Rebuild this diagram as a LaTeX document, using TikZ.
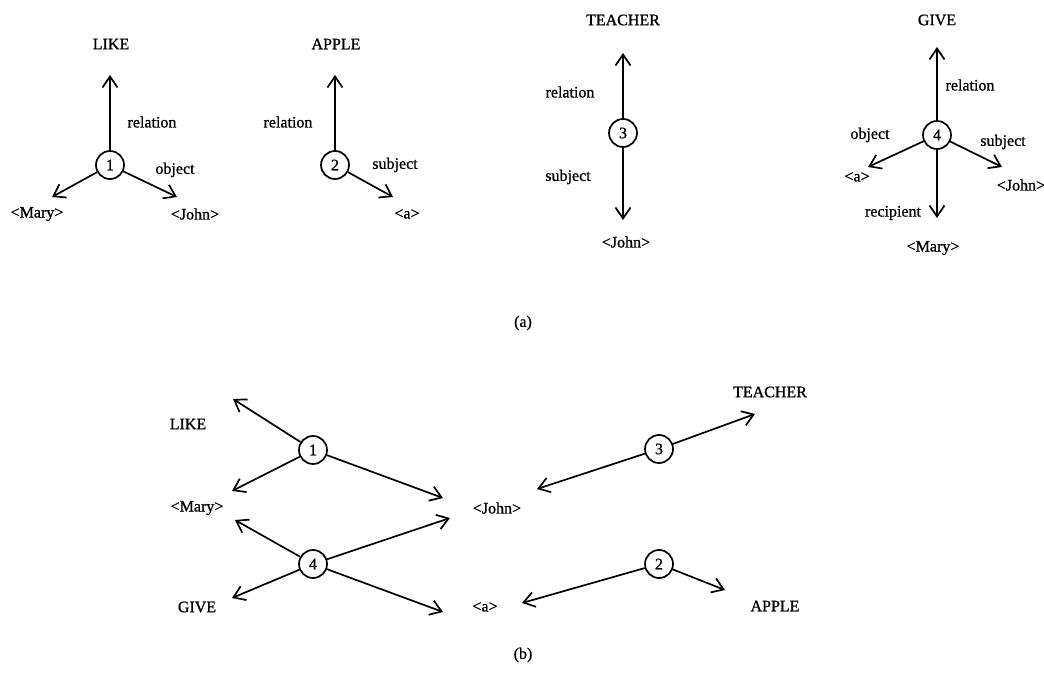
\documentclass[tikz,border=0pt]{standalone}
\usepackage{fontspec}
\setmainfont{Liberation Serif}[AutoFakeBold=0.9]
\usetikzlibrary{arrows.meta}
\begin{document}
\begin{tikzpicture}[x=1pt,y=-1pt,
  every node/.style={font=\fontsize{16}{19}\selectfont\bfseries},
  st/.style={circle,draw,line width=1.7pt,minimum size=28pt,inner sep=0pt},
  lb/.style={inner sep=1pt},
  arr/.style={line width=1.7pt,-{Straight Barb[length=11pt,width=15pt,line width=1.7pt]}}]
\useasboundingbox (0,0) rectangle (1044,687);
% ---------- (a) graph 1
\node[st] (a1) at (110,165) {1};
\coordinate (a1u) at (110,75);
\coordinate (a1l) at (52,197);
\coordinate (a1r) at (177,197);
\draw[arr] (a1) -- (a1u);
\draw[arr] (a1) -- (a1l);
\draw[arr] (a1) -- (a1r);
\node[lb] (a1like) at (111,44) {LIKE};
\node[lb] (a1rel) at (152,122) {relation};
\node[lb] (a1obj) at (175,170) {object};
\node[lb] (a1mary) at (37,214) {<Mary>};
\node[lb] (a1john) at (195,214) {<John>};
% ---------- (a) graph 2
\node[st] (a2) at (335,165) {2};
\coordinate (a2u) at (335,75);
\coordinate (a2r) at (393,197);
\draw[arr] (a2) -- (a2u);
\draw[arr] (a2) -- (a2r);
\node[lb] (a2apple) at (336,44) {APPLE};
\node[lb] (a2rel) at (288,122) {relation};
\node[lb] (a2sub) at (395,165) {subject};
\node[lb] (a2a) at (407,214) {<a>};
% ---------- (a) graph 3
\node[st] (a3) at (623,133) {3};
\coordinate (a3u) at (623,53);
\coordinate (a3d) at (623,220);
\draw[arr] (a3) -- (a3u);
\draw[arr] (a3) -- (a3d);
\node[lb] (a3teach) at (623,20) {TEACHER};
\node[lb] (a3rel) at (570,92) {relation};
\node[lb] (a3sub) at (568,177) {subject};
\node[lb] (a3john) at (626,242) {<John>};
% ---------- (a) graph 4
\node[st] (a4) at (937,135) {4};
\coordinate (a4u) at (937,47);
\coordinate (a4l) at (868,167);
\coordinate (a4r) at (1002,167);
\coordinate (a4d) at (937,218);
\draw[arr] (a4) -- (a4u);
\draw[arr] (a4) -- (a4l);
\draw[arr] (a4) -- (a4r);
\draw[arr] (a4) -- (a4d);
\node[lb] (a4give) at (937,20) {GIVE};
\node[lb] (a4rel) at (970,85) {relation};
\node[lb] (a4obj) at (870,135) {object};
\node[lb] (a4sub) at (1003,142) {subject};
\node[lb] (a4a) at (857,177) {<a>};
\node[lb] (a4john) at (1021,185) {<John>};
\node[lb] (a4rec) at (893,213) {recipient};
\node[lb] (a4mary) at (933,248) {<Mary>};
\node[lb] (capa) at (523,323) {(a)};
% ---------- (b)
\node[lb] (blike) at (188,424) {LIKE};
\node[lb] (bmary) at (197,508) {<Mary>};
\node[lb] (bjohn) at (497,508) {<John>};
\node[lb] (bgive) at (197,607) {GIVE};
\node[lb] (ba) at (485,607) {<a>};
\node[lb] (bteach) at (770,392) {TEACHER};
\node[lb] (bapple) at (775,606) {APPLE};
\node[st] (b1) at (313,450) {1};
\node[st] (b4) at (313,564) {4};
\node[st] (b3) at (659,449) {3};
\node[st] (b2) at (659,564) {2};
\coordinate (b1like) at (233,399);
\coordinate (b1mary) at (232,491);
\coordinate (b1john) at (443,498);
\coordinate (b4mary) at (235,520);
\coordinate (b4john) at (450,518);
\coordinate (b4give) at (232,598);
\coordinate (b4a) at (443,612);
\coordinate (b3john) at (537,489);
\coordinate (b3teach) at (755,414);
\coordinate (b2a) at (522,603);
\coordinate (b2apple) at (725,590);
\draw[arr] (b1) -- (b1like);
\draw[arr] (b1) -- (b1mary);
\draw[arr] (b1) -- (b1john);
\draw[arr] (b4) -- (b4mary);
\draw[arr] (b4) -- (b4john);
\draw[arr] (b4) -- (b4give);
\draw[arr] (b4) -- (b4a);
\draw[arr] (b3) -- (b3john);
\draw[arr] (b3) -- (b3teach);
\draw[arr] (b2) -- (b2a);
\draw[arr] (b2) -- (b2apple);
\node[lb] (capb) at (523,655) {(b)};
\end{tikzpicture}
\end{document}
